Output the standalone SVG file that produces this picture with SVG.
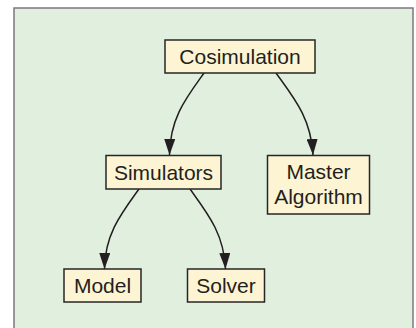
<svg xmlns="http://www.w3.org/2000/svg" width="416" height="328" viewBox="0 0 416 328">
  <style>
    .panel { fill: #e1efdf; stroke: #7a7a7a; stroke-width: 1.5; }
    .box { fill: #fdf4d3; stroke: #262626; stroke-width: 1.5; }
    .label { font-family: "Liberation Sans", Arial, sans-serif; font-size: 21px; fill: #231f20; text-anchor: middle; }
    .edge { fill: none; stroke: #231f20; stroke-width: 1.5; }
  </style>
  <defs>
    <marker id="arrow" markerUnits="userSpaceOnUse" markerWidth="16" markerHeight="11" refX="16" refY="5.5" orient="auto">
      <path d="M0,0 L16,5.5 L0,11 z" fill="#231f20"/>
    </marker>
  </defs>

  <!-- background panel -->
  <rect class="panel" x="14" y="8" width="399" height="330"/>

  <!-- connectors -->
  <g id="edges">
    <path class="edge" marker-end="url(#arrow)" d="M204,73 C186,98 170,118 169.5,155"/>
    <path class="edge" marker-end="url(#arrow)" d="M276,73 C294,98 311,118 313,155"/>
    <path class="edge" marker-end="url(#arrow)" d="M139,189 C121,214 105,234 104.5,269"/>
    <path class="edge" marker-end="url(#arrow)" d="M190,189 C208,214 224,234 225.5,269"/>
  </g>

  <!-- nodes -->
  <g id="cosimulation">
    <rect class="box" x="165" y="40" width="150" height="33"/>
    <text class="label" x="240" y="64">Cosimulation</text>
  </g>
  <g id="simulators">
    <rect class="box" x="106" y="155.5" width="115" height="33.5"/>
    <text class="label" x="163.5" y="179.5">Simulators</text>
  </g>
  <g id="master-algorithm">
    <rect class="box" x="267.5" y="155.5" width="102" height="58.5"/>
    <text class="label" x="318.5" y="179">Master</text>
    <text class="label" x="318.5" y="204">Algorithm</text>
  </g>
  <g id="model">
    <rect class="box" x="64" y="269" width="77" height="33"/>
    <text class="label" x="102.5" y="293">Model</text>
  </g>
  <g id="solver">
    <rect class="box" x="187.5" y="269" width="77" height="33"/>
    <text class="label" x="226" y="293">Solver</text>
  </g>
</svg>
